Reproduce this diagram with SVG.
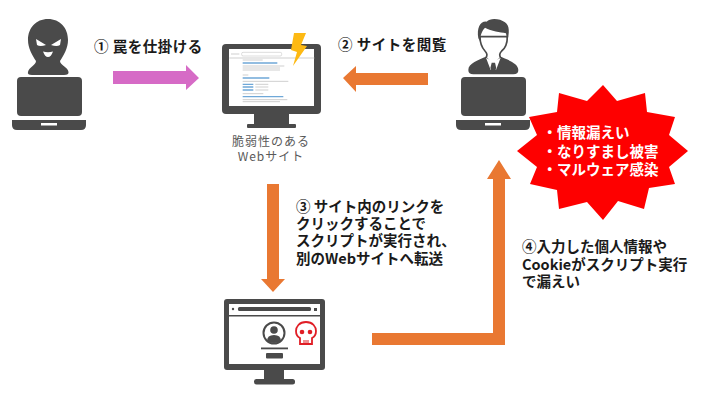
<svg xmlns="http://www.w3.org/2000/svg" width="713" height="413" viewBox="0 0 713 413">
<style>
.d{fill:#4a4a4a}
.w{fill:#fff}
.o{fill:#e97832}
.t{font-family:"Noto Sans CJK JP","Liberation Sans",sans-serif;font-weight:700;font-size:14.5px;fill:#1a1a1a}
.s{letter-spacing:.5px}
.c{font-family:"Noto Sans CJK JP","Liberation Sans",sans-serif;font-size:12px;fill:#595959;text-anchor:middle;letter-spacing:1px}
.b{font-family:"Noto Sans CJK JP","Liberation Sans",sans-serif;font-weight:700;font-size:14.5px;fill:#fff}
.bl{stroke:#6fa8d8;stroke-width:4;fill:none}
.gr{stroke:#cfcfcf;stroke-width:3;fill:none}
</style>
<defs>
<g id="laptop">
<rect class="d" x="0" y="0" width="65" height="39" rx="4"/>
<path class="d" d="M-5 43H69V48Q69 53 64 53H0Q-5 53 -5 48Z"/>
<rect class="w" x="24" y="46" width="16" height="2.5"/>
</g>
</defs>
<rect width="713" height="413" fill="#fff"/>
<g id="connectors">
<polygon fill="#d66bc6" points="113,71 186,71 186,65 199,78 186,90 186,84 113,84"/>
<polygon class="o" points="428,73 356,73 356,66 343,78 356,92 356,85 428,85"/>
<polygon class="o" points="267,184 279,184 279,279 285,279 273,292 261,279 267,279"/>
<polygon class="o" points="372,333 493,333 493,179 487,179 499,160 511,179 505,179 505,345 372,345"/>
</g>
<g id="attacker">
<path class="d" d="M48 19C60 19 68 28 68 40C68 48 64 55 60 61C60 65 68 67 68.500 72Q69 75 64 75H32Q27 75 28 72C29 67 36 65 36 61C32 55 28 48 28 40C28 28 36 19 48 19Z"/>
<path class="w" d="M36 39L46 45Q40 47 37 45ZM61 39L51 45Q57 47 60 45ZM43 51.500Q48 53 53 51.500Q51 57 48 57Q45 57 43 51.500Z"/>
<use href="#laptop" x="17" y="77"/>
</g>
<g id="website">
<rect class="d" x="222" y="44" width="99" height="70" rx="4"/>
<rect fill="#fff" x="229" y="49" width="85" height="57"/>
<rect class="d" x="254" y="114" width="35" height="11"/>
<rect class="d" x="247" y="124" width="49" height="4" rx="1"/>
<g transform="translate(200 30) scale(.3333)">
<path class="gr" d="M93 72H118"/>
<rect x="125" y="67" width="120" height="11" rx="4" fill="#fff" stroke="#bbb" stroke-width="1.500"/>
<path class="gr" d="M88 84H343M128 90H188M128 108H253M128 114H240M128 120H240M128 135H145M128 154H265M166 163H205M166 171H205M166 180H205M128 191H190M128 209H262M128 215H240"/>
<path class="bl" d="M128 99H232M128 144H208M128 163H160M128 171H160M128 180H160M128 200H250"/>
</g>
<polygon fill="#fdb913" points="294,33 306,33 301,45 307,46 293,66 297,52 291,50"/>
<text class="c" x="271" y="146">脆弱性のある</text>
<text class="c" x="271" y="161">Webサイト</text>
</g>
<g id="user">
<g transform="translate(450 15) scale(.3333)">
<path class="d" d="M112 124C85 135 55 145 55 165Q55 178 70 178H190Q205 178 205 165C205 145 175 135 148 124Z"/>
<path fill="#fff" stroke="#4a4a4a" stroke-width="5" d="M90 65C90 90 98 100 105 108C112 115 112 122 108 128L130 152L152 128C148 122 148 115 155 108C165 100 172 90 172 65Z"/>
<path class="w" d="M108 128L122 165L130 152L138 165L152 128L130 140Z"/>
<path class="d" d="M125 143H135L139 160L130 170L121 160Z"/>
<path class="d" d="M85 70C80 40 90 18 110 20C120 8 150 10 165 22C180 32 178 55 172 78L168 55C150 50 125 50 105 38C98 45 92 55 90 78Z"/>
</g>
<use href="#laptop" x="461" y="77"/>
</g>
<g id="damage">
<polygon fill="#fe0000" points="603,85 617,101 645,93 647,112 675,117 669,135 688,151 669,167 675,184 649,188 644,209 618,201 603,220 587,202 559,209 557,190 530,184 537,167 517,151 537,135 529,117 557,112 559,93 587,101"/>
<text class="b"><tspan x="542.500" y="138">・情報漏えい</tspan><tspan x="542.500" y="156.500">・なりすまし被害</tspan><tspan x="542.500" y="174.500">・マルウェア感染</tspan></text>
</g>
<g id="malicious-site">
<rect class="d" x="224" y="299" width="101" height="71" rx="3"/>
<rect fill="#fff" x="229" y="304" width="91" height="60"/>
<rect class="d" x="229" y="315" width="91" height="1.500"/>
<rect class="d" x="238" y="307" width="73" height="4" rx="1.500"/>
<circle class="d" cx="233" cy="309" r="1.200"/>
<rect class="d" x="314" y="308" width="3" height="3"/>
<rect class="d" x="264" y="370" width="20" height="10"/>
<rect class="d" x="254" y="379" width="41" height="5.500" rx="2.500"/>
<circle cx="274" cy="333" r="10.500" fill="#fff" stroke="#4a4a4a" stroke-width="2"/>
<circle class="d" cx="274" cy="330" r="3.800"/>
<path class="d" d="M267 341Q267 335 274 335Q281 335 281 341Q274 345 267 341Z"/>
<rect class="d" x="261" y="347.500" width="27" height="1.800"/>
<rect class="d" x="266" y="353" width="17" height="5.500" rx="1"/>
<path fill="#fff" stroke="#e01e26" stroke-width="1.800" d="M306 322C313 322 316 327 316 331C316 335 314 337 312 338V344H300V338C298 337 296 335 296 331C296 327 299 322 306 322Z"/>
<circle cx="302" cy="332" r="2.300" fill="#e01e26"/>
<circle cx="310" cy="332" r="2.300" fill="#e01e26"/>
<path d="M304 344V340M306 344V340M308 344V340" stroke="#e01e26" stroke-width="1"/>
</g>
<g id="labels">
<text class="t s" x="94" y="51.500">① 罠を仕掛ける</text>
<text class="t s" x="338" y="50">② サイトを閲覧</text>
<text class="t"><tspan x="296" y="212">③ サイト内のリンクを</tspan><tspan x="296" y="229">クリックすることで</tspan><tspan x="296" y="246">スクリプトが実行され、</tspan><tspan x="296" y="264">別のWebサイトへ転送</tspan></text>
<text class="t"><tspan x="522" y="252">④入力した個人情報や</tspan><tspan x="522" y="270">Cookieがスクリプト実行</tspan><tspan x="522" y="287">で漏えい</tspan></text>
</g>
</svg>
